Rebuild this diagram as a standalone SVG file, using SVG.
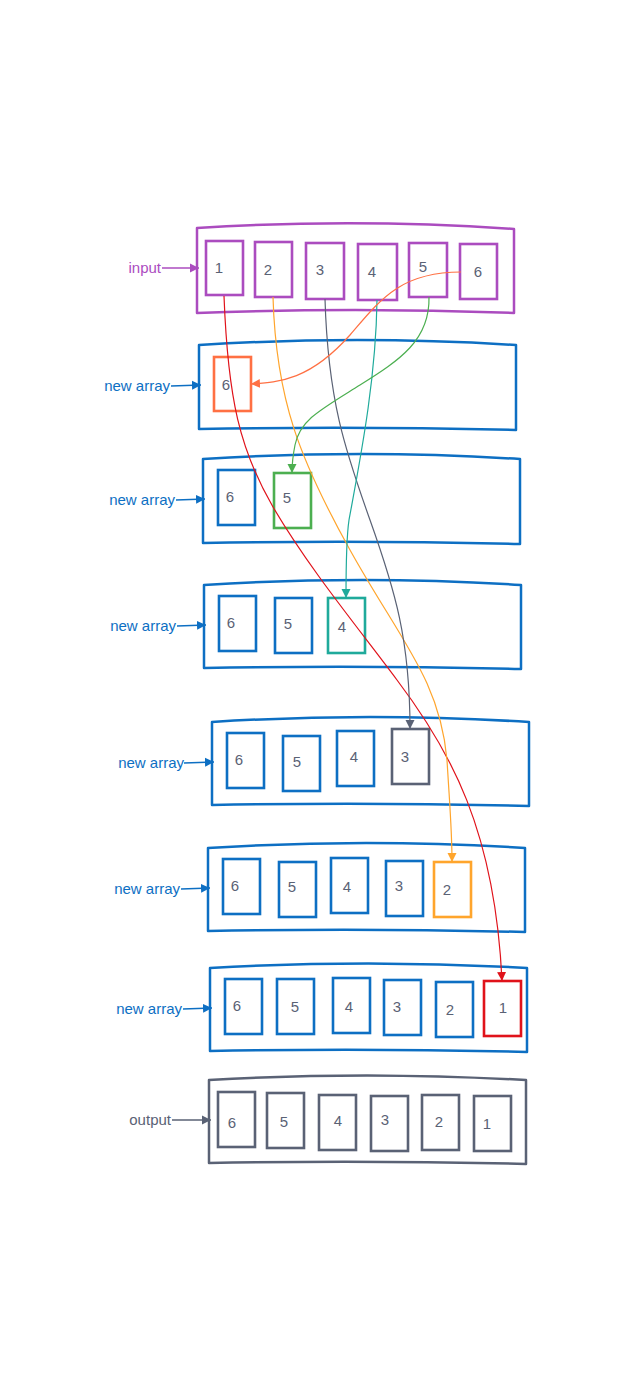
<svg xmlns="http://www.w3.org/2000/svg" width="630" height="1387" viewBox="0 0 630 1387">
<style>
  .bg{fill:#ffffff}
  .frame{fill:#ffffff;stroke-width:2.5;stroke-linejoin:round}
  .cell{fill:#ffffff;stroke-width:2.6}
  .purple{stroke:#AB4CBF}
  .blue{stroke:#0D6FC3}
  .gray{stroke:#5A6275}
  .orange{stroke:#FFA52C}
  .green{stroke:#4CAF50}
  .teal{stroke:#1FAA9B}
  .red{stroke:#E0121A}
  .coral{stroke:#FF7043}
  .num{font-family:"Liberation Sans",Arial,sans-serif;font-size:15px;fill:#5A6275;text-anchor:middle}
  .lbl{font-family:"Liberation Sans",Arial,sans-serif;font-size:15px;text-anchor:end}
  .conn{fill:none;stroke-width:1.2}
  .lconn{fill:none;stroke-width:1.3}
</style>
<defs>
  <marker id="mPurple" viewBox="0 0 10 10" refX="10" refY="5" markerUnits="userSpaceOnUse" markerWidth="9" markerHeight="12" orient="auto"><path d="M0,0 L10,5 L0,10 Z" fill="#AB4CBF"/></marker>
  <marker id="mBlue" viewBox="0 0 10 10" refX="10" refY="5" markerUnits="userSpaceOnUse" markerWidth="9" markerHeight="12" orient="auto"><path d="M0,0 L10,5 L0,10 Z" fill="#0D6FC3"/></marker>
  <marker id="mGray" viewBox="0 0 10 10" refX="10" refY="5" markerUnits="userSpaceOnUse" markerWidth="9" markerHeight="12" orient="auto"><path d="M0,0 L10,5 L0,10 Z" fill="#5A6275"/></marker>
  <marker id="cRed" viewBox="0 0 10 10" refX="10" refY="5" markerUnits="userSpaceOnUse" markerWidth="9" markerHeight="10" orient="auto"><path d="M0,0 L10,5 L0,10 Z" fill="#E0121A"/></marker>
  <marker id="cOrange" viewBox="0 0 10 10" refX="10" refY="5" markerUnits="userSpaceOnUse" markerWidth="9" markerHeight="10" orient="auto"><path d="M0,0 L10,5 L0,10 Z" fill="#FFA52C"/></marker>
  <marker id="cGray" viewBox="0 0 10 10" refX="10" refY="5" markerUnits="userSpaceOnUse" markerWidth="9" markerHeight="10" orient="auto"><path d="M0,0 L10,5 L0,10 Z" fill="#5A6275"/></marker>
  <marker id="cTeal" viewBox="0 0 10 10" refX="10" refY="5" markerUnits="userSpaceOnUse" markerWidth="9" markerHeight="10" orient="auto"><path d="M0,0 L10,5 L0,10 Z" fill="#1FAA9B"/></marker>
  <marker id="cGreen" viewBox="0 0 10 10" refX="10" refY="5" markerUnits="userSpaceOnUse" markerWidth="9" markerHeight="10" orient="auto"><path d="M0,0 L10,5 L0,10 Z" fill="#4CAF50"/></marker>
  <marker id="cCoral" viewBox="0 0 10 10" refX="10" refY="5" markerUnits="userSpaceOnUse" markerWidth="9" markerHeight="10" orient="auto"><path d="M0,0 L10,5 L0,10 Z" fill="#FF7043"/></marker>
</defs>
<rect class="bg" x="0" y="0" width="630" height="1387"/>

<!-- input -->
<g id="input">
  <path class="frame purple" d="M197,228 Q355,218 514,229 L514,313 Q355,307 197,313 Z"/>
  <g id="in-1"><rect class="cell purple" x="206" y="241" width="37" height="54"/><text class="num" x="219" y="273">1</text></g>
  <g id="in-2"><rect class="cell purple" x="255" y="242" width="37" height="55"/><text class="num" x="268" y="275">2</text></g>
  <g id="in-3"><rect class="cell purple" x="306" y="243" width="38" height="56"/><text class="num" x="320" y="275">3</text></g>
  <g id="in-4"><rect class="cell purple" x="358" y="244" width="39" height="56"/><text class="num" x="372" y="277">4</text></g>
  <g id="in-5"><rect class="cell purple" x="409" y="243" width="38" height="54"/><text class="num" x="423" y="272">5</text></g>
  <g id="in-6"><rect class="cell purple" x="460" y="244" width="37" height="55"/><text class="num" x="478" y="277">6</text></g>
</g>

<!-- step 1 -->
<g id="step1">
  <path class="frame blue" d="M199,345 Q357,335 516,345 L516,430 Q357,426 199,429 Z"/>
  <g id="s1-6"><rect class="cell coral" x="214" y="357" width="37" height="54"/><text class="num" x="226" y="390">6</text></g>
</g>

<!-- step 2 -->
<g id="step2">
  <path class="frame blue" d="M203,459 Q361,449 520,459 L520,544 Q361,540 203,543 Z"/>
  <g id="s2-6"><rect class="cell blue" x="218" y="470" width="37" height="55"/><text class="num" x="230" y="502">6</text></g>
  <g id="s2-5"><rect class="cell green" x="274" y="473" width="37" height="55"/><text class="num" x="287" y="503">5</text></g>
</g>

<!-- step 3 -->
<g id="step3">
  <path class="frame blue" d="M204,585 Q362,575 521,585 L521,669 Q362,665 204,668 Z"/>
  <g id="s3-6"><rect class="cell blue" x="219" y="596" width="37" height="55"/><text class="num" x="231" y="628">6</text></g>
  <g id="s3-5"><rect class="cell blue" x="275" y="598" width="37" height="55"/><text class="num" x="288" y="629">5</text></g>
  <g id="s3-4"><rect class="cell teal" x="328" y="598" width="37" height="55"/><text class="num" x="342" y="632">4</text></g>
</g>

<!-- step 4 -->
<g id="step4">
  <path class="frame blue" d="M212,722 Q370,712 529,722 L529,806 Q370,802 212,805 Z"/>
  <g id="s4-6"><rect class="cell blue" x="227" y="733" width="37" height="55"/><text class="num" x="239" y="765">6</text></g>
  <g id="s4-5"><rect class="cell blue" x="283" y="736" width="37" height="55"/><text class="num" x="297" y="767">5</text></g>
  <g id="s4-4"><rect class="cell blue" x="337" y="731" width="37" height="55"/><text class="num" x="354" y="762">4</text></g>
  <g id="s4-3"><rect class="cell gray" x="392" y="729" width="37" height="55"/><text class="num" x="405" y="762">3</text></g>
</g>

<!-- step 5 -->
<g id="step5">
  <path class="frame blue" d="M208,848 Q366,838 525,848 L525,932 Q366,928 208,931 Z"/>
  <g id="s5-6"><rect class="cell blue" x="223" y="859" width="37" height="55"/><text class="num" x="235" y="891">6</text></g>
  <g id="s5-5"><rect class="cell blue" x="279" y="862" width="37" height="55"/><text class="num" x="292" y="892">5</text></g>
  <g id="s5-4"><rect class="cell blue" x="331" y="858" width="37" height="55"/><text class="num" x="347" y="892">4</text></g>
  <g id="s5-3"><rect class="cell blue" x="386" y="861" width="37" height="55"/><text class="num" x="399" y="891">3</text></g>
  <g id="s5-2"><rect class="cell orange" x="434" y="862" width="37" height="55"/><text class="num" x="447" y="895">2</text></g>
</g>

<!-- step 6 -->
<g id="step6">
  <path class="frame blue" d="M210,968 Q368,959 527,968 L527,1052 Q368,1048 210,1051 Z"/>
  <g id="s6-6"><rect class="cell blue" x="225" y="979" width="37" height="55"/><text class="num" x="237" y="1011">6</text></g>
  <g id="s6-5"><rect class="cell blue" x="277" y="979" width="37" height="55"/><text class="num" x="295" y="1012">5</text></g>
  <g id="s6-4"><rect class="cell blue" x="333" y="978" width="37" height="55"/><text class="num" x="349" y="1012">4</text></g>
  <g id="s6-3"><rect class="cell blue" x="384" y="980" width="37" height="55"/><text class="num" x="397" y="1012">3</text></g>
  <g id="s6-2"><rect class="cell blue" x="436" y="982" width="37" height="55"/><text class="num" x="450" y="1015">2</text></g>
  <g id="s6-1"><rect class="cell red" x="484" y="981" width="37" height="55"/><text class="num" x="503" y="1013">1</text></g>
</g>

<!-- output -->
<g id="output">
  <path class="frame gray" d="M209,1080 Q367,1071 526,1080 L526,1164 Q367,1160 209,1163 Z"/>
  <g id="o-6"><rect class="cell gray" x="218" y="1092" width="37" height="55"/><text class="num" x="232" y="1128">6</text></g>
  <g id="o-5"><rect class="cell gray" x="267" y="1093" width="37" height="55"/><text class="num" x="284" y="1127">5</text></g>
  <g id="o-4"><rect class="cell gray" x="319" y="1095" width="37" height="55"/><text class="num" x="338" y="1126">4</text></g>
  <g id="o-3"><rect class="cell gray" x="371" y="1096" width="37" height="55"/><text class="num" x="385" y="1125">3</text></g>
  <g id="o-2"><rect class="cell gray" x="422" y="1095" width="37" height="55"/><text class="num" x="439" y="1127">2</text></g>
  <g id="o-1"><rect class="cell gray" x="474" y="1096" width="37" height="55"/><text class="num" x="487" y="1129">1</text></g>
</g>

<!-- labels -->
<g id="labels">
  <text class="lbl" x="161" y="273" fill="#AB4CBF">input</text>
  <text class="lbl" x="170" y="391" fill="#0D6FC3">new array</text>
  <text class="lbl" x="175" y="505" fill="#0D6FC3">new array</text>
  <text class="lbl" x="176" y="631" fill="#0D6FC3">new array</text>
  <text class="lbl" x="184" y="768" fill="#0D6FC3">new array</text>
  <text class="lbl" x="180" y="894" fill="#0D6FC3">new array</text>
  <text class="lbl" x="182" y="1014" fill="#0D6FC3">new array</text>
  <text class="lbl" x="171" y="1125" fill="#5A6275">output</text>
</g>

<!-- connectors -->
<g id="connectors">
  <line class="lconn purple" x1="162" y1="268" x2="199" y2="268" marker-end="url(#mPurple)"/>
  <line class="lconn blue" x1="171" y1="386" x2="201" y2="385" marker-end="url(#mBlue)"/>
  <line class="lconn blue" x1="176" y1="500" x2="205" y2="499" marker-end="url(#mBlue)"/>
  <line class="lconn blue" x1="177" y1="626" x2="206" y2="625" marker-end="url(#mBlue)"/>
  <line class="lconn blue" x1="184" y1="763" x2="214" y2="762" marker-end="url(#mBlue)"/>
  <line class="lconn blue" x1="181" y1="889" x2="210" y2="888" marker-end="url(#mBlue)"/>
  <line class="lconn blue" x1="183" y1="1009" x2="212" y2="1008" marker-end="url(#mBlue)"/>
  <line class="lconn gray" x1="172" y1="1120" x2="211" y2="1120" marker-end="url(#mGray)"/>

  <path class="conn red" d="M224,296 C228,400 240,450 273,507 C310,570 360,630 397,680 C450,750 495,830 502,981" marker-end="url(#cRed)"/>
  <path class="conn orange" d="M273,297 C276,400 300,460 350,550 C400,640 440,680 447,760 C450,810 452,830 452,862" marker-end="url(#cOrange)"/>
  <path class="conn gray" d="M325,299 C328,400 345,450 370,520 C395,590 410,640 410,729" marker-end="url(#cGray)"/>
  <path class="conn teal" d="M377,300 C376,380 360,460 349,520 C346,540 346,570 346,598" marker-end="url(#cTeal)"/>
  <path class="conn green" d="M429,297 C430,340 400,360 360,385 C320,410 300,420 295,445 C293,455 292,462 292,473" marker-end="url(#cGreen)"/>
  <path class="conn coral" d="M461,272 C400,272 380,300 350,335 C310,380 280,382 251,384" marker-end="url(#cCoral)"/>
</g>
</svg>
